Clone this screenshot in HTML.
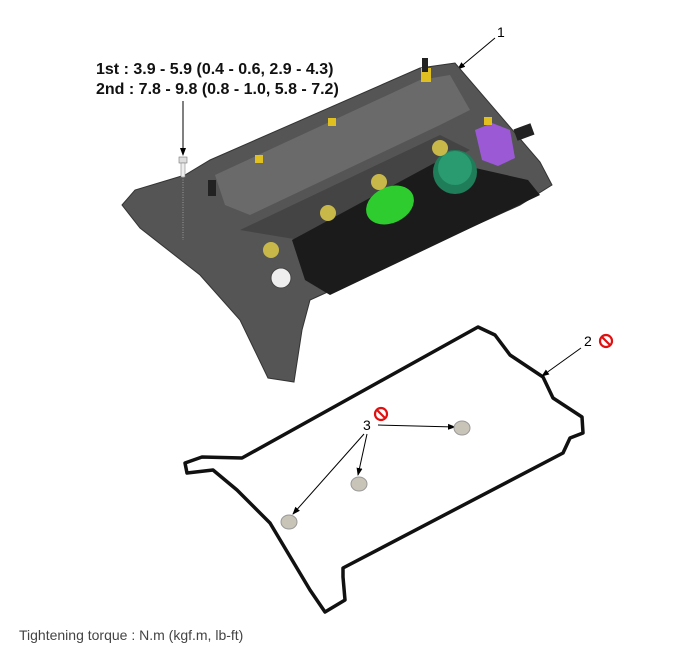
<!DOCTYPE html>
<html><head><meta charset="utf-8"><style>
html,body{margin:0;padding:0;background:#fff;}
svg{display:block;}
text{font-family:"Liberation Sans",Arial,sans-serif;}
</style></head><body>
<svg width="699" height="659" viewBox="0 0 699 659" xmlns="http://www.w3.org/2000/svg">
<defs><marker id="ah" markerWidth="8" markerHeight="8" refX="7" refY="4" orient="auto" markerUnits="userSpaceOnUse"><path d="M0,1 L8,4 L0,7 Z" fill="#000"/></marker></defs>
<text x="96" y="74" font-size="16" font-weight="bold" fill="#111">1st : 3.9 - 5.9 (0.4 - 0.6, 2.9 - 4.3)</text>
<text x="96" y="94" font-size="16" font-weight="bold" fill="#111">2nd : 7.8 - 9.8 (0.8 - 1.0, 5.8 - 7.2)</text>
<line x1="183" y1="101" x2="183" y2="155" stroke="#000" stroke-width="1" marker-end="url(#ah)"/>
<text x="497" y="37" font-size="14" fill="#000">1</text>
<line x1="495" y1="38" x2="458" y2="69" stroke="#000" stroke-width="1" marker-end="url(#ah)"/>
<!-- cover -->
<polygon points="122,205 135,190 185,175 210,160 420,68 455,63 540,162 552,185 520,205 310,300 302,330 294,382 268,378 240,320 200,275 140,228" fill="#555" stroke="#333" stroke-width="1"/>
<polygon points="215,175 420,80 450,75 470,110 440,125 250,215 225,205" fill="#6a6a6a"/>
<polygon points="240,230 440,135 470,150 300,240" fill="#444"/>
<polygon points="292,240 440,160 528,180 540,195 330,295 305,280" fill="#1b1b1b"/>
<ellipse cx="390" cy="205" rx="25" ry="18" fill="#2ecc2e" transform="rotate(-25 390 205)"/>
<circle cx="455" cy="172" r="22" fill="#1f7d5a"/>
<circle cx="455" cy="168" r="17" fill="#2a9a70"/>
<path d="M475,130 L492,123 L510,130 L515,158 L498,166 L482,160 Z" fill="#9b59d6"/>
<rect x="515" y="126" width="18" height="12" fill="#222" transform="rotate(-20 524 132)"/>
<circle cx="281" cy="278" r="10" fill="#eee" stroke="#444"/>
<circle cx="271" cy="250" r="8" fill="#c8b84a"/>
<circle cx="328" cy="213" r="8" fill="#c8b84a"/>
<circle cx="379" cy="182" r="8" fill="#c8b84a"/>
<circle cx="440" cy="148" r="8" fill="#c8b84a"/>
<rect x="255" y="155" width="8" height="8" fill="#e0c020"/>
<rect x="328" y="118" width="8" height="8" fill="#e0c020"/>
<rect x="484" y="117" width="8" height="8" fill="#e0c020"/>
<rect x="421" y="68" width="10" height="14" fill="#e0c020"/>
<rect x="422" y="58" width="6" height="14" fill="#222"/>
<rect x="208" y="180" width="8" height="16" fill="#222"/>
<!-- bolt -->
<rect x="179" y="157" width="8" height="6" fill="#ddd" stroke="#777" stroke-width="0.6"/>
<rect x="181" y="163" width="4" height="14" fill="#eee" stroke="#888" stroke-width="0.6"/>
<line x1="183" y1="177" x2="183" y2="240" stroke="#999" stroke-width="1" stroke-dasharray="1,1.5"/>
<!-- gasket -->
<polygon points="478,327 495,335 510,355 543,377 553,398 582,417 583,433 570,438 563,453 343,568 343,577 345,600 325,612 310,590 270,523 237,490 213,470 187,473 185,463 202,457 242,458" fill="none" stroke="#111" stroke-width="3.5" stroke-linejoin="round"/>
<text x="584" y="346" font-size="14" fill="#000">2</text>
<circle cx="606" cy="341" r="6" fill="none" stroke="#e01010" stroke-width="2.2"/>
<line x1="602" y1="337" x2="610" y2="345" stroke="#e01010" stroke-width="2.2"/>
<line x1="581" y1="348" x2="542" y2="376" stroke="#000" stroke-width="1" marker-end="url(#ah)"/>
<text x="363" y="430" font-size="14" fill="#000">3</text>
<circle cx="381" cy="414" r="6" fill="none" stroke="#e01010" stroke-width="2.2"/>
<line x1="377" y1="410" x2="385" y2="418" stroke="#e01010" stroke-width="2.2"/>
<line x1="378" y1="425" x2="455" y2="427" stroke="#000" stroke-width="1" marker-end="url(#ah)"/>
<line x1="367" y1="434" x2="358" y2="475" stroke="#000" stroke-width="1" marker-end="url(#ah)"/>
<line x1="364" y1="434" x2="293" y2="514" stroke="#000" stroke-width="1" marker-end="url(#ah)"/>
<ellipse cx="462" cy="428" rx="8" ry="7" fill="#c9c4b8" stroke="#999"/>
<ellipse cx="359" cy="484" rx="8" ry="7" fill="#c9c4b8" stroke="#999"/>
<ellipse cx="289" cy="522" rx="8" ry="7" fill="#c9c4b8" stroke="#999"/>
<text x="19" y="640" font-size="14" fill="#444">Tightening torque : N.m (kgf.m, lb-ft)</text>
</svg>
</body></html>
